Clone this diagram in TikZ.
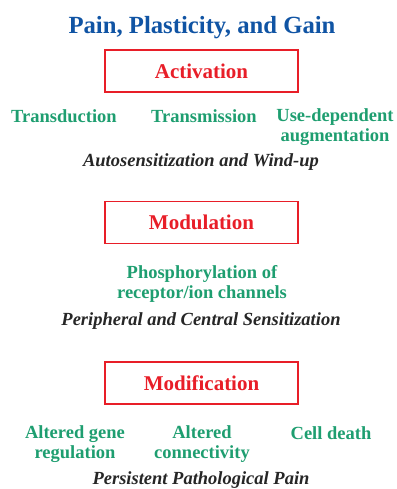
\documentclass[tikz,border=0pt]{standalone}
\usepackage{fontspec}
\setmainfont{Liberation Serif}
\definecolor{titleblue}{RGB}{16,84,164}
\definecolor{stepred}{RGB}{232,30,40}
\definecolor{itemgreen}{RGB}{30,158,112}
\tikzset{
	stagebox/.style={draw=stepred, line width=1.8pt, minimum width=193pt, minimum height=42pt, inner sep=0pt,
		text=stepred, font=\fontsize{21}{24}\selectfont\bfseries},
	item/.style={text=itemgreen, align=center, inner sep=0pt, font=\fontsize{18.5}{20}\selectfont\bfseries},
	outcome/.style={inner sep=0pt, font=\fontsize{18.5}{20}\selectfont\bfseries\itshape, text=black!85}
}
\begin{document}
\begin{tikzpicture}[x=1pt,y=-1pt]
	% page
	\useasboundingbox (0,0) rectangle (396,489);
	% title
	\node (title) at (202,28) [text=titleblue, inner sep=0pt, font=\fontsize{24.7}{26}\selectfont\bfseries] {Pain, Plasticity, and Gain};

	% ####################################
	% activation
	\node[stagebox] (activation) at (201.5,71) {Activation};
	\node[item] (transduction) at (64,116) {Transduction};
	\node[item] (transmission) at (204,116) {Transmission};
	\node[item] (usedependent) at (335,127) {Use-dependent\\augmentation};
	\node[outcome] (windup) at (201,162) {Autosensitization and Wind-up};

	% ####################################
	% modulation
	\node[stagebox] (modulation) at (201.5,222.5) {Modulation};
	\node[item] (phospho) at (202,284) {Phosphorylation of\\receptor/ion channels};
	\node[outcome] (sensitization) at (201,321) {Peripheral and Central Sensitization};

	% ####################################
	% modification
	\node[stagebox] (modification) at (201.5,383) {Modification};
	\node[item] (generegulation) at (75,444) {Altered gene\\regulation};
	\node[item] (connectivity) at (202,444) {Altered\\connectivity};
	\node[item] (celldeath) at (331,433) {Cell death};
	\node[outcome] (pathpain) at (201,480) {Persistent Pathological Pain};
\end{tikzpicture}
\end{document}
